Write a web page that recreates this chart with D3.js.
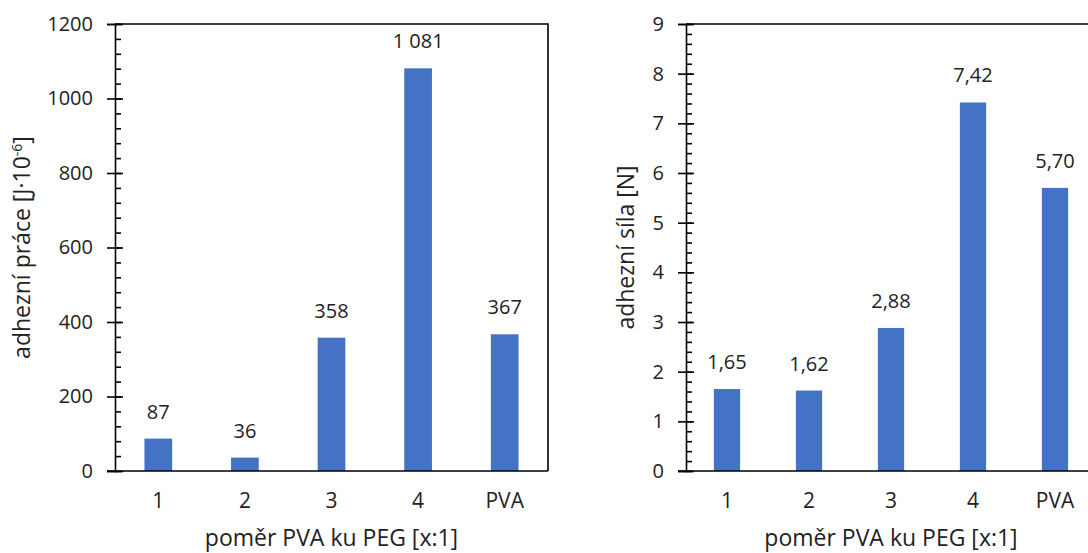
<!DOCTYPE html>
<html>
<head>
<meta charset="utf-8">
<script src="https://cdn.jsdelivr.net/npm/d3@7"></script>
<style>
  body { margin: 0; background: #fff; }
  text { font-family: "Open Sans", sans-serif; fill: #222; }
</style>
</head>
<body>
<div id="chart"></div>
<script>
// data
var categories = ["1", "2", "3", "4", "PVA"];
var workValues = [87, 36, 358, 1081, 367];        // adhezní práce [J·10^-6]
var workLabels = ["87", "36", "358", "1 081", "367"];
var forceValues = [1.65, 1.62, 2.88, 7.42, 5.70]; // adhezní síla [N]
var forceLabels = ["1,65", "1,62", "2,88", "7,42", "5,70"];
var workTicks = [0, 200, 400, 600, 800, 1000, 1200];
var forceTicks = [0, 1, 2, 3, 4, 5, 6, 7, 8, 9];

var svgWidth = 1088;
var svgHeight = 553;
var barColor = "#4472C4";

var svg = d3.select("#chart")
  .append("svg")
  .attr("width", svgWidth)
  .attr("height", svgHeight);

svg.append("rect")
  .attr("width", svgWidth)
  .attr("height", svgHeight)
  .attr("fill", "#fff");

// draw one panel
function drawPanel(opt) {
  var x = d3.scaleBand()
    .domain(categories)
    .range([opt.left, opt.right])
    .paddingInner(0.68)
    .paddingOuter(0.34);

  var y = d3.scaleLinear()
    .domain([0, opt.max])
    .range([opt.bottom, opt.top]);

  var g = svg.append("g");

  // frame: top and right
  g.append("path")
    .attr("d", `M${opt.left},${opt.top}H${opt.right}V${opt.bottom}`)
    .attr("fill", "none")
    .attr("stroke", "#000")
    .attr("stroke-width", 1.6);

  // bars
  g.selectAll("rect.bar")
    .data(opt.values)
    .enter()
    .append("rect")
    .attr("class", "bar")
    .attr("x", (d, i) => x(categories[i]))
    .attr("width", x.bandwidth())
    .attr("y", d => y(d))
    .attr("height", d => opt.bottom - y(d))
    .attr("fill", barColor);

  // value labels
  g.selectAll("text.val")
    .data(opt.values)
    .enter()
    .append("text")
    .attr("class", "val")
    .attr("x", (d, i) => x(categories[i]) + x.bandwidth() / 2)
    .attr("y", d => y(d) - 20)
    .attr("text-anchor", "middle")
    .style("font-size", "20px")
    .text((d, i) => opt.labels[i]);

  // minor ticks (inside)
  var minor = d3.range(0, opt.max + opt.minorStep / 2, opt.minorStep);
  g.append("g")
    .attr("transform", `translate(${opt.left},0)`)
    .call(d3.axisRight(y).tickValues(minor).tickSize(6).tickFormat(""))
    .call(a => a.select(".domain").remove())
    .call(a => a.selectAll("line").attr("stroke", "#000").attr("stroke-width", 1.6));

  // major ticks (cross) + labels
  var yAxis = g.append("g")
    .attr("transform", `translate(${opt.left},0)`)
    .call(d3.axisLeft(y).tickValues(opt.ticks).tickSize(8).tickFormat(d3.format("d")));
  yAxis.select(".domain").attr("stroke", "#000").attr("stroke-width", 1.6);
  yAxis.selectAll("line")
    .attr("x2", -8).attr("x1", 8)
    .attr("stroke", "#000").attr("stroke-width", 1.6);
  yAxis.selectAll("text")
    .attr("x", -22)
    .style("font-size", "20px")
    .style("font-family", "'Open Sans', sans-serif")
    .attr("fill", "#222");

  // x axis
  var xAxis = g.append("g")
    .attr("transform", `translate(0,${opt.bottom})`)
    .call(d3.axisBottom(x).tickSize(0).tickPadding(22));
  xAxis.select(".domain")
    .attr("d", `M${opt.left - 8},0H${opt.right}`)
    .attr("stroke", "#000").attr("stroke-width", 1.6);
  xAxis.selectAll("text")
    .style("font-size", "21px")
    .style("font-family", "'Open Sans', sans-serif")
    .attr("fill", "#222");

  // axis titles
  g.append("text")
    .attr("x", (opt.left + opt.right) / 2)
    .attr("y", 546)
    .attr("text-anchor", "middle")
    .style("font-size", "23px")
    .text("poměr PVA ku PEG [x:1]");

  var yt = g.append("text")
    .attr("transform", `translate(${opt.titleX},${(opt.top + opt.bottom) / 2}) rotate(-90)`)
    .attr("text-anchor", "middle")
    .style("font-size", "23px");
  opt.title(yt);
}

drawPanel({
  left: 115, right: 548, top: 24, bottom: 471,
  max: 1200, ticks: workTicks, minorStep: 40,
  values: workValues, labels: workLabels,
  titleX: 30,
  title: t => {
    t.append("tspan").text("adhezní práce [J·10");
    t.append("tspan").attr("dy", -8).style("font-size", "14px").text("-6");
    t.append("tspan").attr("dy", 8).text("]");
  }
});

drawPanel({
  left: 686, right: 1096, top: 24, bottom: 471,
  max: 9, ticks: forceTicks, minorStep: 0.2,
  values: forceValues, labels: forceLabels,
  titleX: 634,
  title: t => t.text("adhezní síla [N]")
});
</script>
</body>
</html>
